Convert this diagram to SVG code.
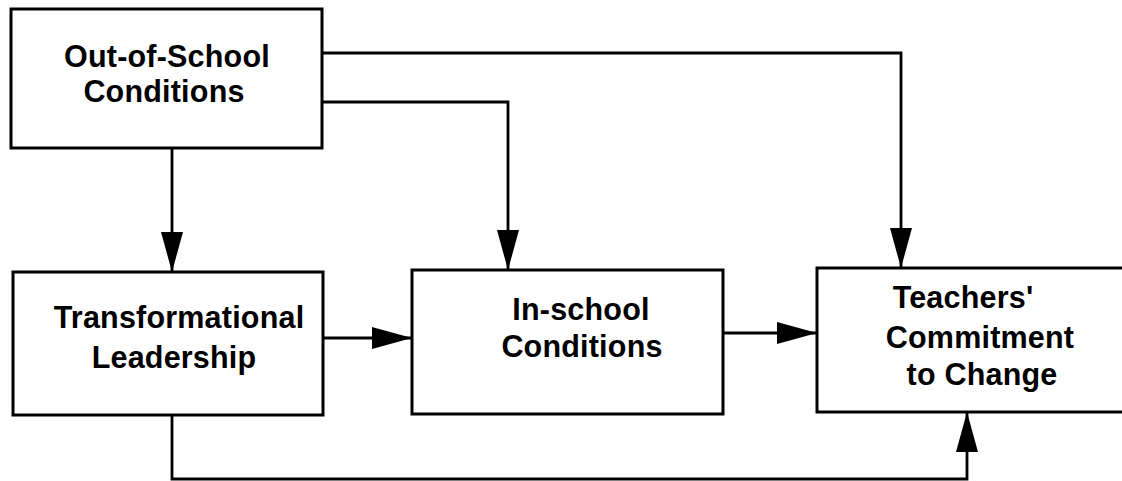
<svg xmlns="http://www.w3.org/2000/svg" width="1122" height="481" viewBox="0 0 1122 481">
  <defs>
    <style>
      .box { fill: #fff; stroke: #000; stroke-width: 3; }
      .lbl { font-family: "Liberation Sans", Arial, Helvetica, sans-serif; font-weight: bold; font-size: 30.5px; letter-spacing: 0.2px; fill: #000; text-anchor: middle; }
      .con { fill: none; stroke: #000; stroke-width: 2.8; marker-end: url(#arr); }
    </style>
    <marker id="arr" markerUnits="userSpaceOnUse" markerWidth="41" markerHeight="22" refX="40" refY="11" orient="auto" viewBox="0 0 41 22">
      <path d="M0,0 L40,11 L0,22 Z" fill="#000"/>
    </marker>
  </defs>
  <rect width="1122" height="481" fill="#fff"/>

  <g id="connectors">
    <path class="con" d="M321,53 H901 V268"/>
    <path class="con" d="M321,102 H508 V270"/>
    <path class="con" d="M172,149 V272"/>
    <path class="con" d="M323,338 H412"/>
    <path class="con" d="M723,333 H817"/>
    <path class="con" d="M172,415 V479 H967 V412"/>
  </g>

  <g id="out-of-school">
    <rect class="box" x="11" y="9" width="311" height="139"/>
    <text class="lbl" x="167" y="67">Out-of-School</text>
    <text class="lbl" x="164" y="102">Conditions</text>
  </g>

  <g id="transformational-leadership">
    <rect class="box" x="13" y="272" width="310" height="143"/>
    <text class="lbl" x="179" y="328">Transformational</text>
    <text class="lbl" x="174" y="368">Leadership</text>
  </g>

  <g id="in-school">
    <rect class="box" x="412" y="270" width="311" height="144"/>
    <text class="lbl" x="581" y="320">In-school</text>
    <text class="lbl" x="582" y="357">Conditions</text>
  </g>

  <g id="teachers-commitment">
    <rect class="box" x="817" y="268" width="320" height="144"/>
    <text class="lbl" x="963" y="308">Teachers'</text>
    <text class="lbl" x="980" y="348">Commitment</text>
    <text class="lbl" x="982" y="385">to Change</text>
  </g>
</svg>
